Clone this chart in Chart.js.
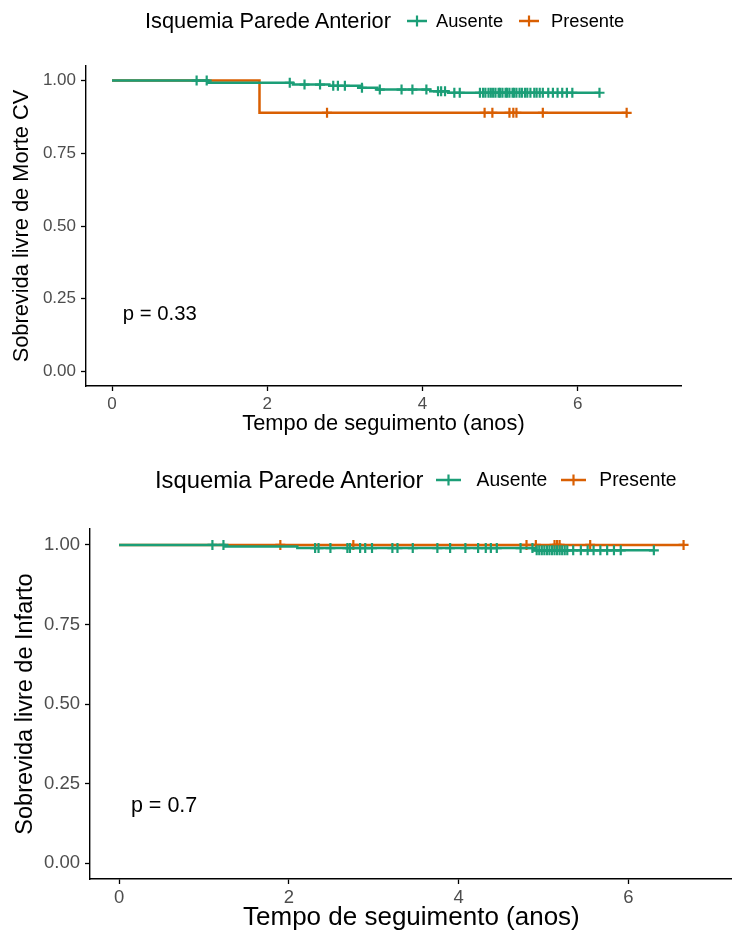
<!DOCTYPE html>
<html>
<head>
<meta charset="utf-8">
<script src="https://cdn.jsdelivr.net/npm/chart.js@4.4.1/dist/chart.umd.min.js"></script>
<style>
  body { margin: 0; background: #fff; font-family: "Liberation Sans", Arial, sans-serif; }
  #wrap { position: relative; width: 732px; height: 934px; overflow: hidden; }
  canvas { position: absolute; left: 0; }
  .legend { position: absolute; display: flex; align-items: center; white-space: nowrap; color: #000; }
</style>
</head>
<body>
<div id="wrap">
  <canvas id="c1" width="732" height="450" style="top:0"></canvas>
  <canvas id="c2" width="740" height="484" style="top:450px"></canvas>
  <div class="legend" id="leg1" style="left:145px; top:8px;"></div>
  <div class="legend" id="leg2" style="left:155px; top:466px;"></div>
</div>
<script>
const GREEN = "#1B9E77";
const ORANGE = "#D95F02";

const groups = ["Ausente", "Presente"];
const legendTitle = "Isquemia Parede Anterior";
const xTicks = [0, 2, 4, 6];
const yTicks = [0, 0.25, 0.5, 0.75, 1];

// Morte CV - step times / survival, last value = end of follow-up
const morteAusenteT = [0, 1.24, 2.33, 2.8, 3.22, 3.42, 4.1, 4.33, 6.28];
const morteAusenteS = [1, 0.992, 0.986, 0.982, 0.975, 0.969, 0.963, 0.958, 0.958];
const morteAusenteCens = [1.09, 1.22, 2.29, 2.48, 2.68, 2.85, 2.91, 3.0, 3.22, 3.45, 3.73, 3.87,
  4.05, 4.2, 4.24, 4.29, 4.41, 4.48, 4.74, 4.78, 4.81, 4.85, 4.88, 4.91, 4.94, 4.98, 5.0, 5.03,
  5.07, 5.09, 5.12, 5.16, 5.18, 5.21, 5.25, 5.28, 5.32, 5.35, 5.39, 5.44, 5.47, 5.51, 5.55,
  5.62, 5.68, 5.74, 5.8, 5.86, 5.93, 6.28];
const mortePresenteT = [0, 1.9, 6.63];
const mortePresenteS = [1, 0.889, 0.889];
const mortePresenteCens = [2.77, 4.8, 4.9, 5.12, 5.17, 5.21, 5.55, 6.63];

// Infarto
const infAusenteT = [0, 1.24, 2.1, 4.88, 6.3];
const infAusenteS = [1, 0.995, 0.99, 0.983, 0.983];
const infAusenteCens = [1.1, 1.23, 2.31, 2.35, 2.49, 2.69, 2.72, 2.84, 2.9, 2.98, 3.22, 3.28,
  3.46, 3.75, 3.9, 4.08, 4.23, 4.32, 4.38, 4.45, 4.73, 4.87, 4.92, 4.95, 4.98, 5.01, 5.04,
  5.07, 5.1, 5.13, 5.16, 5.19, 5.22, 5.25, 5.28, 5.35, 5.44, 5.52, 5.59, 5.67, 5.75, 5.83,
  5.91, 6.3];
const infPresenteT = [0, 6.65];
const infPresenteS = [1, 1];
const infPresenteCens = [1.9, 2.76, 4.8, 4.91, 5.13, 5.16, 5.19, 5.55, 6.65];

function stepAt(T, S, t) {
  let v = S[0];
  for (let i = 0; i < T.length; i++) if (T[i] <= t) v = S[i];
  return v;
}

function kmSets(T, S, cens, color) {
  return [
    {
      data: T.map((t, i) => ({ x: t, y: S[i] })),
      showLine: true, stepped: true, borderColor: color, borderWidth: 2.5,
      pointRadius: 0, fill: false,
    },
    {
      data: cens.map(t => ({ x: t, y: stepAt(T, S, t) })),
      showLine: false, pointStyle: "cross", pointRadius: 5, borderColor: color,
      borderWidth: 2.2, backgroundColor: color,
    },
  ];
}

const pvalPlugin = {
  id: "pval",
  afterDatasetsDraw(chart, args, opts) {
    const { ctx, scales } = chart;
    ctx.save();
    ctx.font = opts.size + "px 'Liberation Sans', Arial, sans-serif";
    ctx.fillStyle = "#000";
    ctx.textBaseline = "middle";
    ctx.textAlign = "left";
    ctx.fillText(opts.text, scales.x.getPixelForValue(opts.x), scales.y.getPixelForValue(opts.y));
    ctx.restore();
  },
};

function makeChart(id, o) {
  const axisGrid = { display: true, drawOnChartArea: false, drawTicks: true, tickLength: 5, tickColor: "#000", tickWidth: 1.3 };
  const axisBorder = { display: true, color: "#000", width: 1.4 };
  return new Chart(document.getElementById(id), {
    type: "scatter",
    data: {
      datasets: [
        ...kmSets(o.aT, o.aS, o.aC, GREEN),
        ...kmSets(o.pT, o.pS, o.pC, ORANGE),
      ],
    },
    options: {
      responsive: false,
      animation: false,
      devicePixelRatio: 1,
      layout: { padding: { top: o.top, right: o.right, left: 0, bottom: 0 } },
      plugins: {
        legend: { display: false },
        tooltip: { enabled: false },
        pval: { text: o.pval, x: 0.14, y: o.pY, size: o.pSize },
      },
      scales: {
        x: {
          type: "linear", min: o.xMin, max: o.xMax,
          afterBuildTicks: s => { s.ticks = xTicks.map(v => ({ value: v })); },
          afterFit: s => { s.height = o.xH; },
          grid: axisGrid, border: axisBorder,
          ticks: { color: "#4d4d4d", font: { size: o.tickSize, family: "'Liberation Sans', Arial" }, padding: 3, maxRotation: 0 },
          title: { display: true, text: "Tempo de seguimento (anos)", color: "#000",
            font: { size: o.xTitleSize, family: "'Liberation Sans', Arial" }, padding: { top: 0, bottom: o.xTitlePad } },
        },
        y: {
          type: "linear", min: -0.05, max: 1.05,
          afterBuildTicks: s => { s.ticks = yTicks.map(v => ({ value: v })); },
          afterFit: s => { s.width = o.yW; },
          grid: axisGrid, border: axisBorder,
          ticks: { color: "#4d4d4d", font: { size: o.tickSize, family: "'Liberation Sans', Arial" }, padding: 5,
            callback: v => v.toFixed(2) },
          title: { display: true, text: o.yTitle, color: "#000",
            font: { size: o.yTitleSize, family: "'Liberation Sans', Arial" }, padding: { top: o.yTitlePad, bottom: 0 } },
        },
      },
    },
    plugins: [pvalPlugin],
  });
}

makeChart("c1", {
  aT: morteAusenteT, aS: morteAusenteS, aC: morteAusenteCens,
  pT: mortePresenteT, pS: mortePresenteS, pC: mortePresenteCens,
  top: 66, right: 51, yW: 86, xH: 64, xMin: -0.335, xMax: 7.33,
  tickSize: 17, xTitleSize: 21.8, yTitleSize: 21.8, xTitlePad: 13, yTitlePad: 9,
  yTitle: "Sobrevida livre de Morte CV", pval: "p = 0.33", pY: 0.195, pSize: 20.3,
});

makeChart("c2", {
  aT: infAusenteT, aS: infAusenteS, aC: infAusenteCens,
  pT: infPresenteT, pS: infPresenteS, pC: infPresenteCens,
  top: 79, right: 0, yW: 90, xH: 55, xMin: -0.342, xMax: 7.23,
  tickSize: 18.5, xTitleSize: 26, yTitleSize: 23.5, xTitlePad: 1, yTitlePad: 11,
  yTitle: "Sobrevida livre de Infarto", pval: "p = 0.7", pY: 0.18, pSize: 21.5,
});

function keySvg(color, w, mr) {
  return '<svg style="margin-right:' + mr + 'px" width="' + w + '" height="14" viewBox="0 0 ' + w + ' 14">' +
    '<line x1="0" y1="7" x2="' + w + '" y2="7" stroke="' + color + '" stroke-width="2.5"/>' +
    '<line x1="' + w / 2 + '" y1="1.5" x2="' + w / 2 + '" y2="12.5" stroke="' + color + '" stroke-width="2.2"/></svg>';
}

// gaps: [after title, after key1, after label1, after key2]
function makeLegend(id, titleSize, labelSize, keyW, gaps) {
  const el = document.getElementById(id);
  const colors = [GREEN, ORANGE];
  let html = '<span style="font-size:' + titleSize + 'px; margin-right:' + gaps[0] + 'px">' + legendTitle + '</span>';
  html += keySvg(colors[0], keyW, gaps[1]);
  html += '<span style="font-size:' + labelSize + 'px; margin-right:' + gaps[2] + 'px">' + groups[0] + '</span>';
  html += keySvg(colors[1], keyW, gaps[3]);
  html += '<span style="font-size:' + labelSize + 'px">' + groups[1] + '</span>';
  el.innerHTML = html;
}

makeLegend("leg1", 21.8, 18.3, 20, [16, 9, 16, 12]);
makeLegend("leg2", 23.8, 19.3, 25, [12, 16, 14, 13]);
</script>
</body>
</html>
